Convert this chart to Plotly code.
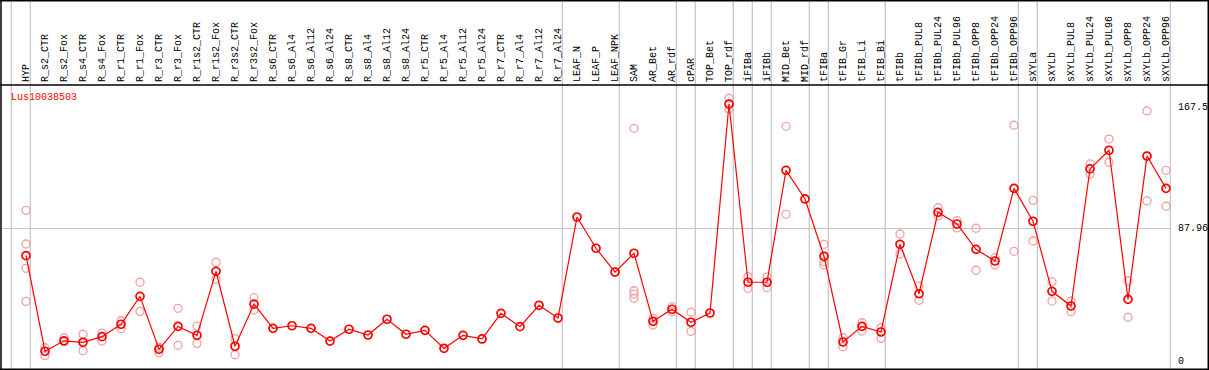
import plotly.graph_objects as go

categories = [
    "HYP", "R_s2_CTR", "R_s2_Fox", "R_s4_CTR", "R_s4_Fox", "R_r1_CTR", "R_r1_Fox",
    "R_r3_CTR", "R_r3_Fox", "R_r1s2_CTR", "R_r1s2_Fox", "R_r3s2_CTR", "R_r3s2_Fox",
    "R_s6_CTR", "R_s6_Al4", "R_s6_Al12", "R_s6_Al24", "R_s8_CTR", "R_s8_Al4",
    "R_s8_Al12", "R_s8_Al24", "R_r5_CTR", "R_r5_Al4", "R_r5_Al12", "R_r5_Al24",
    "R_r7_CTR", "R_r7_Al4", "R_r7_Al12", "R_r7_Al24", "LEAF_N", "LEAF_P", "LEAF_NPK",
    "SAM", "AR_Bet", "AR_rdf", "cPAR", "TOP_Bet", "TOP_rdf", "iFIBa", "iFIBb",
    "MID_Bet", "MID_rdf", "tFIBa", "tFIB_Gr", "tFIB_Li", "tFIB_Bi", "tFIBb",
    "tFIBb_PUL8", "tFIBb_PUL24", "tFIBb_PUL96", "tFIBb_OPP8", "tFIBb_OPP24",
    "tFIBb_OPP96", "sXYLa", "sXYLb", "sXYLb_PUL8", "sXYLb_PUL24", "sXYLb_PUL96",
    "sXYLb_OPP8", "sXYLb_OPP24", "sXYLb_OPP96",
]

mean_values = [
    69.9, 6.9, 13.8, 12.8, 16.5, 24.7, 43.1, 8.2, 23.3, 17.4, 59.6, 10.2, 38.0,
    22.0, 23.7, 22.0, 13.6, 21.4, 17.6, 28.0, 18.1, 20.7, 8.8, 17.4, 15.0,
    31.9, 23.1, 37.2, 28.8, 95.4, 74.8, 59.1, 71.5, 26.6, 34.6, 26.0, 32.1,
    169.9, 52.4, 52.4, 126.2, 107.3, 69.5, 13.0, 23.3, 19.6, 77.4, 44.8, 98.5,
    90.8, 74.1, 66.4, 114.3, 92.6, 46.4, 36.7, 127.1, 139.4, 41.1, 135.6, 114.3,
]

replicate_values = [
    [99.8, 77.6, 61.6, 39.8], [9.2, 4.0], [15.8, 13.2], [18.1, 7.3], [18.9, 13.6],
    [27.0, 21.8], [52.4, 33.2], [9.5, 5.7], [35.2, 10.8], [23.5, 12.1],
    [65.5, 54.3], [15.2, 4.6], [42.2, 34.1],
    [], [], [], [], [], [], [], [], [], [], [], [], [], [], [], [], [], [], [],
    [153.9, 46.8, 44.6, 41.8], [28.6, 24.2], [36.3, 33.0], [32.6, 20.0], [],
    [173.7, 166.6], [56.0, 48.4], [56.0, 48.8], [155.2, 97.2], [],
    [77.4, 65.9, 63.8], [15.8, 9.9], [25.7, 20.2], [22.4, 15.4], [84.2, 71.0],
    [49.9, 40.5], [101.5, 96.1], [93.0, 88.2], [88.0, 60.3], [68.6, 63.8],
    [155.9, 72.8], [106.4, 79.6], [52.6, 40.0], [40.0, 33.0], [130.4, 123.6],
    [146.8, 131.5], [53.2, 29.3], [165.3, 106.0], [126.2, 102.5],
]

y_tick_values = [0, 87.96, 167.5]
y_tick_labels = ["0", "87.96", "167.5"]

group_ends = ["HYP", "R_r7_Al24", "LEAF_NPK", "AR_rdf", "cPAR", "TOP_rdf", "iFIBa",
              "iFIBb", "MID_rdf", "tFIBa", "tFIB_Bi", "tFIBb_OPP96", "sXYLa", "sXYLb_OPP96"]

gene_name = "Lus10038503"

# ---- geometry ----
W, H = 1209, 370
ML, MR, MT, MB = 1, 38, 85, 1
PW, PH = W - ML - MR, H - MT - MB
XR = [-1.316, 60.263]
YR = [-4.81, 182.45]
FONT = "Liberation Mono"

xs = list(range(len(categories)))
rep_x, rep_y = [], []
for i, reps in enumerate(replicate_values):
    for v in reps:
        rep_x.append(i)
        rep_y.append(v)

fig = go.Figure()
fig.add_trace(go.Scatter(
    x=rep_x, y=rep_y, mode="markers",
    marker=dict(symbol="circle-open", size=8, color="#f0a0a0", line=dict(width=1.3, color="#f0a0a0")),
    hoverinfo="skip", showlegend=False,
))
fig.add_trace(go.Scatter(
    x=xs, y=mean_values, mode="lines+markers",
    line=dict(color="#ff0000", width=1.2),
    marker=dict(symbol="circle-open", size=8, color="#ff0000", line=dict(width=1.7, color="#ff0000")),
    showlegend=False,
))

def px_to_paper_x(px):
    return (px - ML) / PW

def px_to_paper_y(py):
    return (H - MB - py) / PH

shapes = []
offset = 0.226
sep_positions = [-1 + offset] + [categories.index(c) + offset for c in group_ends]
for sx in sep_positions:
    shapes.append(dict(type="line", xref="x", yref="paper", x0=sx, x1=sx,
                       y0=px_to_paper_y(369), y1=px_to_paper_y(0),
                       line=dict(color="#c4c4c4", width=1.2), layer="below"))
# borders
black = dict(color="#000000", width=1.5)
shapes.append(dict(type="line", xref="paper", yref="paper", x0=px_to_paper_x(0), x1=px_to_paper_x(W),
                   y0=px_to_paper_y(85), y1=px_to_paper_y(85), line=black))
shapes.append(dict(type="line", xref="paper", yref="paper", x0=px_to_paper_x(0), x1=px_to_paper_x(W),
                   y0=px_to_paper_y(0.75), y1=px_to_paper_y(0.75), line=black))
shapes.append(dict(type="line", xref="paper", yref="paper", x0=px_to_paper_x(0), x1=px_to_paper_x(W),
                   y0=px_to_paper_y(369.25), y1=px_to_paper_y(369.25), line=black))
shapes.append(dict(type="line", xref="paper", yref="paper", x0=px_to_paper_x(1), x1=px_to_paper_x(1),
                   y0=px_to_paper_y(0), y1=px_to_paper_y(370), line=black))
shapes.append(dict(type="line", xref="paper", yref="paper", x0=px_to_paper_x(1208.25), x1=px_to_paper_x(1208.25),
                   y0=px_to_paper_y(0), y1=px_to_paper_y(370), line=black))

annotations = []
for i, c in enumerate(categories):
    annotations.append(dict(x=i, y=1, xref="x", yref="paper", text=c, showarrow=False,
                            textangle=-90, xanchor="center", yanchor="bottom", yshift=1,
                            font=dict(family=FONT, size=10, color="#000000")))
for v, t in zip(y_tick_values, y_tick_labels):
    annotations.append(dict(x=1, y=v, xref="paper", yref="y", text=t, showarrow=False,
                            xanchor="left", yanchor="middle", xshift=5,
                            font=dict(family=FONT, size=10, color="#000000")))
annotations.append(dict(x=px_to_paper_x(9), y=px_to_paper_y(97), xref="paper", yref="paper",
                        text=gene_name, showarrow=False, xanchor="left", yanchor="middle",
                        font=dict(family=FONT, size=10, color="#ff0000")))

fig.update_layout(
    width=W, height=H,
    margin=dict(l=ML, r=MR, t=MT, b=MB, pad=0),
    paper_bgcolor="white", plot_bgcolor="white",
    xaxis=dict(range=XR, showgrid=False, zeroline=False, showticklabels=False, ticks=""),
    yaxis=dict(range=YR, tickvals=[87.96], showgrid=True, gridcolor="#c4c4c4", gridwidth=1.2,
               zeroline=False, showticklabels=False, ticks=""),
    shapes=shapes, annotations=annotations,
)

fig.write_html("out.html", config={"displayModeBar": False},
               post_script="document.body.style.margin='0';")
